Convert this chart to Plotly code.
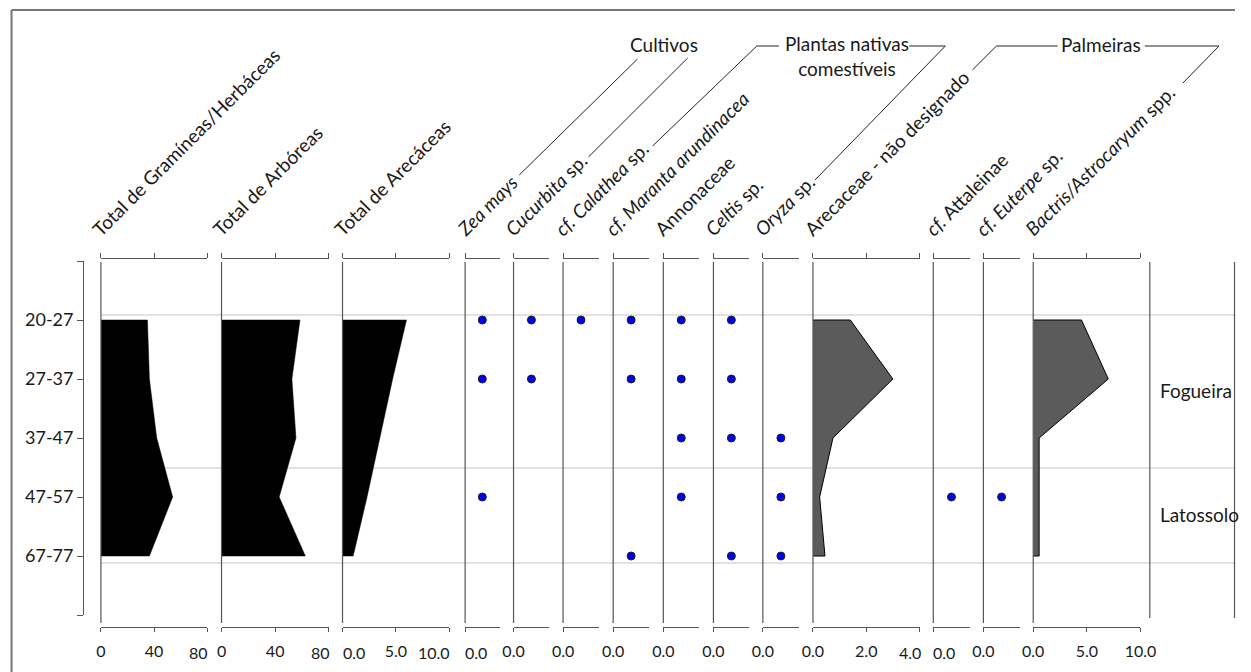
import plotly.graph_objects as go

# The figure fills the whole 1251x672 page (body margin removed below).
# Layout coordinates are written in pixels of the reference picture; the
# photographed page shows up slightly narrowed (x_pic ~ 11 + 0.976 * x_page),
# so horizontal positions are converted back to page pixels here.
W, H = 1251, 672
SX, AX = 0.976, 11.0
FONT = "Lato"


def px(x):
    return min(max((x - AX) / SX, 0.5), W - 0.5) / W


def py(y):
    return 1 - y / H


# ---------------- data ----------------
depths = ["20-27", "27-37", "37-47", "47-57", "67-77"]
depth_idx = [0, 1, 2, 3, 4]

gramineas = [35.0, 36.5, 42.0, 54.0, 36.5]
arboreas = [58.5, 52.5, 55.5, 43.0, 62.5]
arecaceas_total = [6.0, 4.7, 3.5, 2.3, 1.0]
arecaceae_nd = [1.4, 3.0, 0.75, 0.25, 0.45]
bactris = [4.5, 7.0, 0.55, 0.55, 0.55]

# presence (1) / absence (0)
zea_mays = [1, 1, 0, 1, 0]
cucurbita = [1, 1, 0, 0, 0]
calathea = [1, 0, 0, 0, 0]
maranta = [1, 1, 0, 0, 1]
annonaceae = [1, 1, 1, 1, 0]
celtis = [1, 1, 1, 0, 1]
oryza = [0, 0, 1, 1, 1]
attaleinae = [0, 0, 0, 1, 0]
euterpe = [0, 0, 0, 1, 0]

headers = [
    "Total de Gramíneas/Herbáceas",
    "Total de Arbóreas",
    "Total de Arecáceas",
    "<i>Zea mays</i>",
    "<i>Cucurbita</i> sp.",
    "<i>cf.</i> <i>Calathea</i> sp.",
    "<i>cf.</i> <i>Maranta arundinacea</i>",
    "Annonaceae",
    "<i>Celtis</i> sp.",
    "<i>Oryza</i> sp.",
    "Arecaceae - não designado",
    "<i>cf.</i> Attaleinae",
    "<i>cf.</i> <i>Euterpe</i> sp.",
    "<i>Bactris/Astrocaryum</i> spp.",
]

zones = ["Fogueira", "Latossolo"]
zone_pos = [1.2, 3.3]
zone_bounds = [-0.085, 2.51, 4.12]

# (kind, data, range max, tick values, tick labels, left-aligned start label,
#  right-aligned end label, left px, right px)
panels = [
    ("area_black", gramineas, 80, [0, 40, 80], ["0", "40", ""], None, "80", 100.7, 206.7),
    ("area_black", arboreas, 80, [0, 40, 80], ["0", "40", ""], None, "80", 221.0, 328.0),
    ("area_black", arecaceas_total, 10, [0, 5, 10], ["", "5.0", ""], "0.0", "10.0", 341.7, 448.0),
    ("dots", zea_mays, 2, [0], [""], "0.0", None, 464.0, 498.3),
    ("dots", cucurbita, 2, [0], ["0.0"], None, None, 512.3, 548.0),
    ("dots", calathea, 2, [0], ["0.0"], None, None, 561.7, 597.5),
    ("dots", maranta, 2, [0], ["0.0"], None, None, 611.7, 647.5),
    ("dots", annonaceae, 2, [0], ["0.0"], None, None, 661.7, 697.5),
    ("dots", celtis, 2, [0], ["0.0"], None, None, 711.7, 747.5),
    ("dots", oryza, 2, [0], ["0.0"], None, None, 761.0, 797.0),
    ("area_gray", arecaceae_nd, 4, [0, 2, 4], ["0.0", "2.0", ""], None, "4.0", 811.0, 917.3),
    ("dots", attaleinae, 2, [0], [""], "0.0", None, 931.0, 967.3),
    ("dots", euterpe, 2, [0], ["0.0"], None, None, 981.0, 1017.3),
    ("area_gray", bactris, 10, [0, 5, 10], ["0.0", "5.0", "10.0"], None, None, 1030.7, 1137.7),
]

N = len(panels)
AXIS_COLOR = "#555555"
TEXT_COLOR = "#1a1a1a"
TICK_FONT = dict(family=FONT, size=16, color=TEXT_COLOR)
LABEL_Y = 652

fig = go.Figure()
layout_axes = {}
shapes = []
annotations = []

for i, (kind, vals, rmax, tv, tt, startlab, endlab, left, right) in enumerate(panels):
    n = i + 1
    xname = "x" if n == 1 else f"x{n}"
    top_n = n + N
    top_name = f"x{top_n}"

    if kind.startswith("area"):
        xs = [0] + list(vals) + [0]
        ys = [depth_idx[0]] + depth_idx + [depth_idx[-1]]
        fillc = "#000000" if kind == "area_black" else "#5b5b5b"
        fig.add_trace(go.Scatter(
            x=xs, y=ys, xaxis=xname, yaxis="y", mode="lines", fill="toself",
            fillcolor=fillc,
            line=dict(color="#000000", width=1 if kind == "area_gray" else 0.5),
            showlegend=False, hoverinfo="skip"))
    else:
        xs = [rmax / 2 for v in vals if v]
        ys = [d for d, v in zip(depth_idx, vals) if v]
        fig.add_trace(go.Scatter(
            x=xs, y=ys, xaxis=xname, yaxis="y", mode="markers",
            marker=dict(color="#0000f0", size=8, line=dict(color="#222222", width=1)),
            showlegend=False, hoverinfo="skip"))
    # invisible trace so the top (mirror) axis is drawn
    fig.add_trace(go.Scatter(x=[None], y=[None], xaxis=top_name, yaxis="y",
                             mode="markers", showlegend=False, hoverinfo="skip"))

    dom = [px(left), px(right)]
    layout_axes["xaxis" if n == 1 else f"xaxis{n}"] = dict(
        domain=dom, range=[0, rmax], anchor="free", position=py(627), side="bottom",
        showline=True, linecolor=AXIS_COLOR, linewidth=1.2, ticks="outside", ticklen=4,
        tickcolor=AXIS_COLOR, tickwidth=1.2, ticklabelstandoff=6,
        tickmode="array", tickvals=tv, ticktext=tt, showgrid=False, zeroline=False,
        tickfont=TICK_FONT, fixedrange=True)
    layout_axes[f"xaxis{top_n}"] = dict(
        domain=dom, range=[0, rmax], anchor="free", position=py(258), side="top",
        overlaying=xname, showline=True, linecolor=AXIS_COLOR, linewidth=1.2,
        ticks="outside", ticklen=5, tickcolor=AXIS_COLOR, tickwidth=1.2,
        tickmode="array", tickvals=tv, showticklabels=False, showgrid=False,
        zeroline=False, fixedrange=True)

    if endlab:
        # end label pulled left so it does not collide with the next panel's "0"
        annotations.append(dict(
            text=endlab, xref=xname, yref="paper", x=rmax, y=py(LABEL_Y),
            xanchor="right", yanchor="middle", xshift=3, showarrow=False,
            font=TICK_FONT))
    if startlab:
        # start label pushed right, clear of the previous panel's end label
        annotations.append(dict(
            text=startlab, xref=xname, yref="paper", x=0, y=py(LABEL_Y),
            xanchor="left", yanchor="middle", xshift=-2, showarrow=False,
            font=TICK_FONT))

    # panel vertical (left) line
    shapes.append(dict(type="line", xref="paper", yref="paper",
                       x0=px(left), x1=px(left), y0=py(262), y1=py(623),
                       line=dict(color=AXIS_COLOR, width=1.2)))
    # rotated header
    annotations.append(dict(
        text=headers[i], xref="paper", yref="paper", x=px(left - 16), y=py(243),
        xanchor="left", yanchor="bottom", textangle=-45, showarrow=False,
        font=dict(family=FONT, size=19, color=TEXT_COLOR)))

# zone column lines
for xz in (1147, 1245):
    shapes.append(dict(type="line", xref="paper", yref="paper",
                       x0=px(xz), x1=px(xz), y0=py(262), y1=py(618),
                       line=dict(color=AXIS_COLOR, width=1.2)))

# zone boundary lines
for yv in zone_bounds:
    shapes.append(dict(type="line", xref="paper", yref="y", layer="below",
                       x0=px(100.7), x1=px(1245), y0=yv, y1=yv,
                       line=dict(color="#d8d8d8", width=1.5)))

# outer frame (top and left)
shapes.append(dict(type="line", xref="paper", yref="paper", x0=px(11.5), x1=1.0,
                   y0=py(10), y1=py(10), line=dict(color="#777777", width=2)))
shapes.append(dict(type="line", xref="paper", yref="paper", x0=px(11.5), x1=px(11.5),
                   y0=py(10), y1=0.0, line=dict(color="#777777", width=2)))

# group connector lines
seg = [
    ((518, 175), (636, 59)),
    ((587, 157), (686, 58)),
    ((651, 146), (755, 46)), ((755, 46), (777, 46)),
    ((813, 180), (943, 46)), ((907, 46), (943, 46)),
    ((970, 70), (994, 46)), ((994, 46), (1055, 46)),
    ((1142, 46), (1216, 46)), ((1216, 46), (1180, 83)),
]
for (a, b) in seg:
    shapes.append(dict(type="line", xref="paper", yref="paper",
                       x0=px(a[0]), y0=py(a[1]), x1=px(b[0]), y1=py(b[1]),
                       line=dict(color="#222222", width=1)))

groups = [("Cultivos", 662, 45), ("Plantas nativas<br>comestíveis", 845, 56),
          ("Palmeiras", 1098, 45)]
for txt, gx, gy in groups:
    annotations.append(dict(text=txt, xref="paper", yref="paper", x=px(gx), y=py(gy),
                            xanchor="center", yanchor="middle", showarrow=False,
                            font=dict(family=FONT, size=19, color=TEXT_COLOR)))

for z, zy in zip(zones, zone_pos):
    annotations.append(dict(text=z, xref="paper", yref="y", x=px(1155), y=zy,
                            xanchor="left", yanchor="middle", showarrow=False,
                            font=dict(family=FONT, size=19, color=TEXT_COLOR)))

fig.update_layout(
    width=W, height=H, autosize=False, margin=dict(l=0, r=0, t=0, b=0),
    paper_bgcolor="white", plot_bgcolor="rgba(0,0,0,0)",
    showlegend=False,
    yaxis=dict(domain=[py(615), py(261)], range=[5, -1], anchor="free", position=px(83),
               side="left", showline=True, linecolor=AXIS_COLOR, linewidth=1.2,
               ticks="outside", ticklen=6, tickcolor=AXIS_COLOR, tickwidth=1.2,
               tickmode="array", tickvals=[-1] + depth_idx + [5],
               ticktext=[""] + depths + [""], showgrid=False, zeroline=False,
               tickfont=dict(family=FONT, size=18, color=TEXT_COLOR), fixedrange=True),
    shapes=shapes, annotations=annotations,
    **layout_axes,
)

fig.write_html(
    "out.html",
    config={"responsive": False, "displayModeBar": False},
    post_script="document.body.style.margin='0px';document.body.style.overflow='hidden';",
)
